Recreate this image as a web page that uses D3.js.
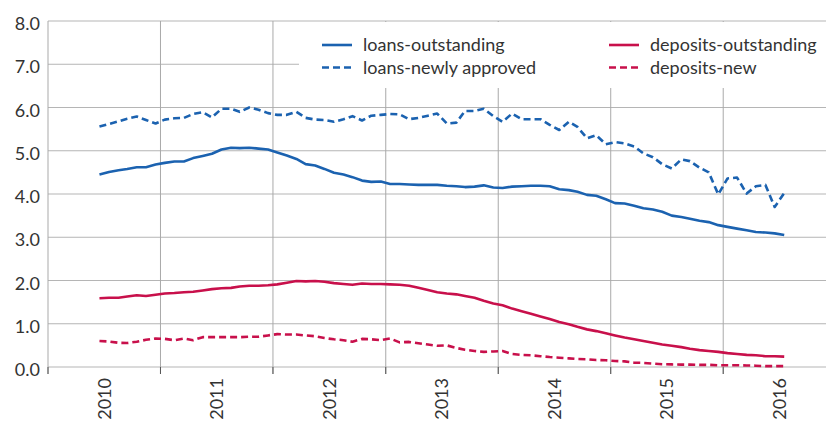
<!DOCTYPE html>
<html>
<head>
<meta charset="utf-8">
<title>Loans and deposits</title>
<script src="https://cdn.jsdelivr.net/npm/d3@7"></script>
<style>
  body { margin: 0; background: #fff; }
  text { font-family: Lato, sans-serif; fill: #333; }
</style>
</head>
<body>
<script>
// monthly values, Dec 2009 - Jan 2016
const firstMonth = new Date(2009, 11, 1)
const yearLabels = [2010, 2011, 2012, 2013, 2014, 2015, 2016]
const yTicks = [0, 1, 2, 3, 4, 5, 6, 7, 8]

const loansOutstanding = [4.45, 4.51, 4.55, 4.58, 4.62, 4.62, 4.68, 4.72, 4.75, 4.75,
  4.83, 4.88, 4.93, 5.03, 5.07, 5.06, 5.07, 5.05, 5.03, 4.96,
  4.89, 4.81, 4.69, 4.66, 4.58, 4.49, 4.45, 4.39, 4.31, 4.28,
  4.29, 4.23, 4.23, 4.22, 4.21, 4.21, 4.21, 4.19, 4.18, 4.16,
  4.17, 4.20, 4.15, 4.14, 4.17, 4.18, 4.19, 4.19, 4.18, 4.11,
  4.09, 4.05, 3.98, 3.96, 3.88, 3.79, 3.78, 3.73, 3.67, 3.64,
  3.59, 3.50, 3.47, 3.43, 3.38, 3.35, 3.28, 3.24, 3.20, 3.16,
  3.12, 3.11, 3.09, 3.05]

const loansNew = [5.56, 5.62, 5.68, 5.74, 5.79, 5.71, 5.63, 5.72, 5.75, 5.76,
  5.85, 5.89, 5.77, 5.97, 5.97, 5.90, 6.00, 5.95, 5.87, 5.83,
  5.83, 5.90, 5.76, 5.72, 5.71, 5.67, 5.73, 5.80, 5.70, 5.81,
  5.83, 5.85, 5.84, 5.73, 5.76, 5.81, 5.86, 5.63, 5.65, 5.92,
  5.92, 5.97, 5.80, 5.67, 5.86, 5.73, 5.73, 5.73, 5.60, 5.48,
  5.67, 5.55, 5.29, 5.36, 5.15, 5.20, 5.17, 5.10, 4.94, 4.85,
  4.69, 4.59, 4.80, 4.76, 4.61, 4.50, 3.99, 4.36, 4.38, 4.01,
  4.18, 4.21, 3.70, 4.02]

const depositsOutstanding = [1.59, 1.60, 1.60, 1.63, 1.66, 1.64, 1.67, 1.70, 1.71, 1.73,
  1.74, 1.77, 1.80, 1.82, 1.83, 1.86, 1.88, 1.88, 1.89, 1.91,
  1.95, 1.99, 1.98, 1.99, 1.97, 1.94, 1.92, 1.90, 1.93, 1.92,
  1.92, 1.91, 1.90, 1.88, 1.83, 1.78, 1.73, 1.70, 1.68, 1.64,
  1.60, 1.53, 1.47, 1.43, 1.35, 1.29, 1.23, 1.17, 1.11, 1.04,
  0.99, 0.93, 0.87, 0.83, 0.78, 0.73, 0.68, 0.64, 0.60, 0.56,
  0.52, 0.49, 0.46, 0.42, 0.39, 0.37, 0.35, 0.32, 0.30, 0.28,
  0.27, 0.25, 0.25, 0.24]

const depositsNew = [0.60, 0.59, 0.56, 0.555, 0.585, 0.63, 0.66, 0.65, 0.62, 0.66,
  0.62, 0.69, 0.69, 0.69, 0.69, 0.69, 0.70, 0.70, 0.73, 0.76,
  0.75, 0.75, 0.73, 0.71, 0.67, 0.64, 0.62, 0.585, 0.65, 0.64,
  0.62, 0.66, 0.57, 0.58, 0.55, 0.52, 0.49, 0.50, 0.44, 0.40,
  0.37, 0.35, 0.36, 0.37, 0.30, 0.28, 0.27, 0.25, 0.23, 0.215,
  0.20, 0.185, 0.18, 0.16, 0.155, 0.14, 0.13, 0.10, 0.095, 0.08,
  0.065, 0.06, 0.055, 0.055, 0.05, 0.05, 0.04, 0.04, 0.04, 0.035,
  0.03, 0.02, 0.02, 0.02]

const blue = "#1b62b0"
const red = "#c8104b"

const series = [
  { name: "loans-outstanding", values: loansOutstanding, color: blue, dash: null },
  { name: "loans-newly approved", values: loansNew, color: blue, dash: "7,4" },
  { name: "deposits-outstanding", values: depositsOutstanding, color: red, dash: null },
  { name: "deposits-new", values: depositsNew, color: red, dash: "7,4" }
]

let w = 826
let h = 421

let svg = d3.select("body")
  .append("svg")
  .attr("width", w)
  .attr("height", h)

let x = d3.scaleTime()
  .domain([new Date(2009, 6, 1), new Date(2016, 6, 1)])
  .range([48, 836])

let y = d3.scaleLinear()
  .domain([0, 8])
  .range([367, 21])

let monthDate = i => d3.timeDay.offset(d3.timeMonth.offset(firstMonth, i), 14)

// horizontal grid + y labels
svg.selectAll(".hgrid")
  .data(yTicks)
  .enter()
  .append("line")
  .attr("x1", x.range()[0])
  .attr("x2", w)
  .attr("y1", d => y(d))
  .attr("y2", d => y(d))
  .attr("stroke", "#b5b5b5")
  .attr("stroke-width", 1)

svg.selectAll(".ylab")
  .data(yTicks)
  .enter()
  .append("text")
  .attr("x", 40)
  .attr("y", d => y(d) + 9)
  .attr("text-anchor", "end")
  .style("font-size", "18px")
  .text(d => d3.format(".1f")(d))

// vertical grid at mid-year, running a bit under the zero line
let midYears = d3.range(2009, 2016).map(yr => new Date(yr, 6, 1))

svg.selectAll(".vgrid")
  .data(midYears)
  .enter()
  .append("line")
  .attr("x1", d => x(d))
  .attr("x2", d => x(d))
  .attr("y1", y(8))
  .attr("y2", y(0) + 7)
  .attr("stroke", "#a9a9a9")
  .attr("stroke-width", 1)

svg.selectAll(".xtick")
  .data(midYears)
  .enter()
  .append("line")
  .attr("x1", d => x(d))
  .attr("x2", d => x(d))
  .attr("y1", y(0))
  .attr("y2", y(0) + 7)
  .attr("stroke", "#555")
  .attr("stroke-width", 1)

svg.selectAll(".xlab")
  .data(yearLabels)
  .enter()
  .append("text")
  .attr("transform", d => `translate(${x(new Date(d, 0, 1)) + 6},378) rotate(-90)`)
  .attr("text-anchor", "end")
  .style("font-size", "18px")
  .text(d => d)

// legend box covers the grid
svg.append("rect")
  .attr("x", 299)
  .attr("y", 22)
  .attr("width", w - 299)
  .attr("height", 66)
  .attr("fill", "#fff")

let legendPos = [[322, 45], [322, 67.5], [609, 45], [609, 67.5]]

let legend = svg.selectAll(".legend")
  .data(series)
  .enter()
  .append("g")
  .attr("transform", (d, i) => `translate(${legendPos[i][0]},${legendPos[i][1]})`)

legend.append("line")
  .attr("x1", 0)
  .attr("x2", 30)
  .attr("stroke", d => d.color)
  .attr("stroke-width", 2.6)
  .attr("stroke-dasharray", d => d.dash)

legend.append("text")
  .attr("x", 41)
  .attr("y", 6)
  .style("font-size", "18px")
  .text(d => d.name)

// the lines
let line = d3.line()
  .x((d, i) => x(monthDate(i)))
  .y(d => y(d))

svg.selectAll(".series")
  .data(series)
  .enter()
  .append("path")
  .attr("d", d => line(d.values))
  .attr("fill", "none")
  .attr("stroke", d => d.color)
  .attr("stroke-width", 2.6)
  .attr("stroke-linejoin", "round")
  .attr("stroke-dasharray", d => d.dash)
</script>
</body>
</html>
